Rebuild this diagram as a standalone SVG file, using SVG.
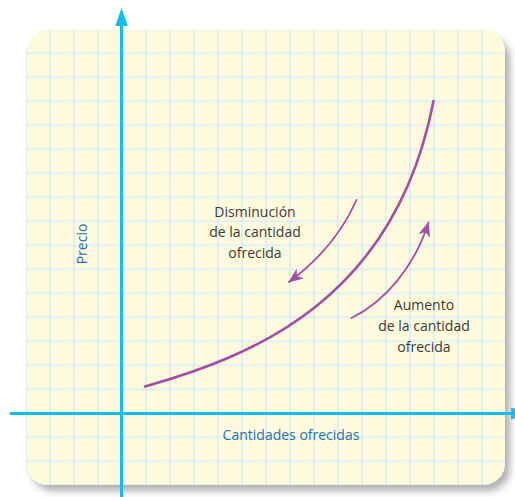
<svg xmlns="http://www.w3.org/2000/svg" width="515" height="497" viewBox="0 0 515 497">
<defs>
<filter id="sh" x="-10%" y="-10%" width="125%" height="125%">
<feDropShadow dx="5" dy="6" stdDeviation="3.5" flood-color="#000" flood-opacity="0.3"/>
</filter>
<pattern id="grid" x="14" y="17.3" width="24" height="24" patternUnits="userSpaceOnUse">
<path d="M12 0V24M0 12H24" fill="none" stroke="#d6edf4" stroke-width="1.6"/>
</pattern>
<marker id="ah" viewBox="0 0 15 12" refX="14" refY="6" markerWidth="15" markerHeight="12" markerUnits="userSpaceOnUse" orient="auto">
<path d="M0 0L15 6L0 12L4 6Z" fill="#a34fa4"/>
</marker>
</defs>
<style>
.t{font-family:"Open Sans","Noto Sans",sans-serif;font-size:14px;fill:#3a3a39;text-anchor:middle}
.b{font-family:"Open Sans","Noto Sans",sans-serif;font-size:14px;fill:#1f6fb6;text-anchor:middle}
.ax{stroke:#14bdea;stroke-width:3;fill:none}
.pu{stroke:#a34fa4;fill:none;stroke-linecap:round}
</style>
<g id="card">
<rect x="26" y="30" width="479" height="455" rx="22" fill="#fefadd" filter="url(#sh)"/>
<rect x="26" y="30" width="479" height="455" rx="22" fill="url(#grid)"/>
</g>
<g id="axes">
<line class="ax" x1="121.5" y1="22" x2="121.5" y2="497"/>
<path d="M121.5 8L127.8 26H115.2Z" fill="#14bdea"/>
<line class="ax" x1="10" y1="413.5" x2="512" y2="413.5"/>
<path d="M529 413.5L511 407.5V419.5Z" fill="#14bdea"/>
</g>
<g id="connectors">
<path id="curve" class="pu" stroke-width="2.6" d="M145 386.5C253 356 395 300 433.5 101"/>
<path id="dism" class="pu" stroke-width="1.8" d="M356.5 200C342 233 320 259 289 282" marker-end="url(#ah)"/>
<path id="aum" class="pu" stroke-width="1.8" d="M351.5 318C384 302 414 268 428.5 222.5" marker-end="url(#ah)"/>
</g>
<g id="label-dism">
<text class="t" x="255" y="216.5">Disminución</text>
<text class="t" x="255" y="236.5">de la cantidad</text>
<text class="t" x="255" y="258">ofrecida</text>
</g>
<g id="label-aum">
<text class="t" x="424" y="310">Aumento</text>
<text class="t" x="424" y="330.5">de la cantidad</text>
<text class="t" x="424" y="351.5">ofrecida</text>
</g>
<g id="label-y"><text class="b" transform="translate(87 244) rotate(-90)">Precio</text></g>
<g id="label-x"><text class="b" x="291" y="440">Cantidades ofrecidas</text></g>
</svg>
